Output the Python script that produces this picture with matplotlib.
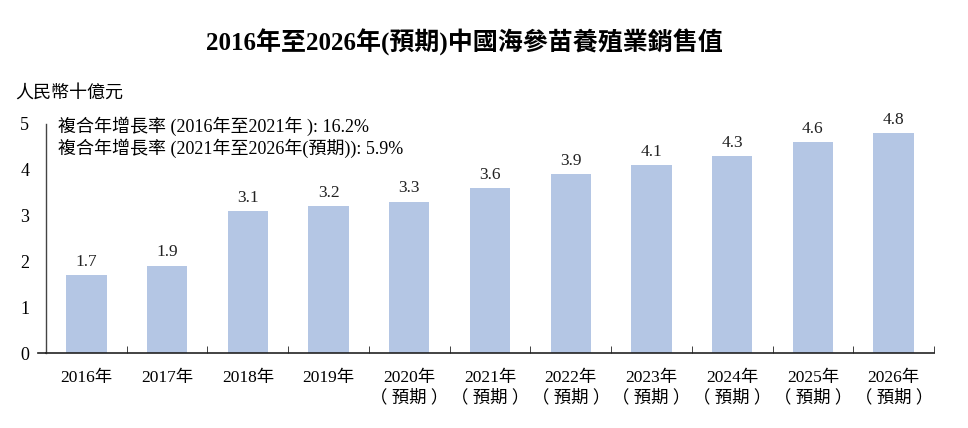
import matplotlib
matplotlib.use("Agg")
import matplotlib.pyplot as plt

years = ["2016年", "2017年", "2018年", "2019年", "2020年\n（ 預期 ）", "2021年\n（ 預期 ）",
         "2022年\n（ 預期 ）", "2023年\n（ 預期 ）", "2024年\n（ 預期 ）", "2025年\n（ 預期 ）",
         "2026年\n（ 預期 ）"]
values = [1.7, 1.9, 3.1, 3.2, 3.3, 3.6, 3.9, 4.1, 4.3, 4.6, 4.8]
yticks = [0, 1, 2, 3, 4, 5]
title = "2016年至2026年(預期)中國海參苗養殖業銷售值"
unit = "人民幣十億元"
cagr_lines = ["複合年增長率 (2016年至2021年 ): 16.2%",
              "複合年增長率 (2021年至2026年(預期)): 5.9%"]

plt.rcParams['font.family'] = ['Liberation Serif', 'Noto Sans CJK TC', 'DejaVu Sans']

fig = plt.figure(figsize=(9.68, 4.28), dpi=100)
ax = fig.add_axes([46/968, 1-353/428, (934-46)/968, (353-124)/428])

bar_color = "#b4c6e4"
x = list(range(len(values)))
ax.bar(x, values, width=0.5, color=bar_color, zorder=2)
for xi, v in zip(x, values):
    ax.text(xi, v + 0.12, f"{v:.1f}", ha="center", va="bottom", fontsize=12.5, color="#222222")

ax.set_xlim(-0.5, len(values) - 0.5)
ax.set_ylim(0, 5)

for s in ["top", "right"]:
    ax.spines[s].set_visible(False)
ax.spines["left"].set_color("#444444")
ax.spines["bottom"].set_color("#222222")
ax.spines["left"].set_linewidth(1.0)
ax.spines["bottom"].set_linewidth(1.2)

ax.set_yticks(yticks)
ax.set_yticklabels([str(t) for t in yticks], fontsize=13)
ax.tick_params(axis="y", length=0, pad=12)
# short extension of the baseline to the left of the y-axis
ax.plot([-0.5 - 0.1, -0.5], [0, 0], color="#222222", lw=1.2, clip_on=False)

# category boundary ticks (pointing up)
ax.set_xticks([i + 0.5 for i in range(len(values))], minor=True)
ax.tick_params(axis="x", which="minor", direction="in", length=5, color="#222222")
ax.set_xticks(x)
ax.set_xticklabels(years, fontsize=12.5, linespacing=1.3)
ax.tick_params(axis="x", which="major", length=0, pad=12)

fig.text(464/968, 1-42/428, title, ha="center", va="center", fontsize=18, fontweight="bold")
fig.text(15/968, 1-93/428, unit, ha="left", va="center", fontsize=13)
fig.text(58/968, 1-126/428, cagr_lines[0], ha="left", va="center", fontsize=13)
fig.text(58/968, 1-148/428, cagr_lines[1], ha="left", va="center", fontsize=13)

fig.savefig("out.png", dpi=100)
